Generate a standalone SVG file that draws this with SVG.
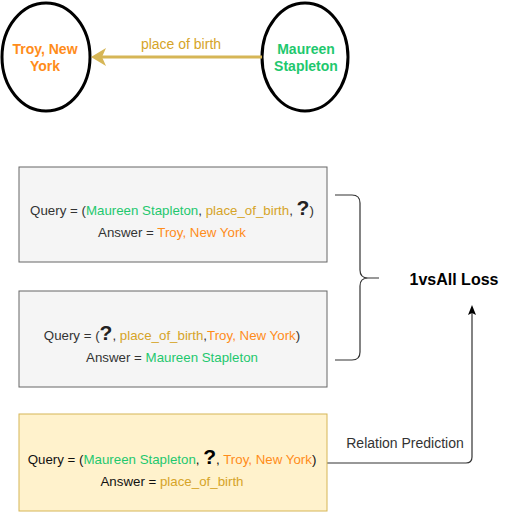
<svg xmlns="http://www.w3.org/2000/svg" width="512" height="512" viewBox="0 0 512 512">
<style>
text{font-family:"Liberation Sans",Arial,sans-serif;}
.node{fill:#ffffff;stroke:#000000;stroke-width:3;}
.nl{font-size:14px;font-weight:bold;text-anchor:middle;}
.box{stroke-width:1;}
.bt{font-size:13.3px;text-anchor:middle;}
.g{fill:#1ec86e;}
.o{fill:#ff8c1a;}
.y{fill:#d6a428;}
.q{font-size:21px;font-weight:bold;fill:#222222;}
</style>
<rect width="512" height="512" fill="#ffffff"/>
<g id="troy">
<ellipse class="node" cx="46" cy="57" rx="44" ry="54"/>
<text class="nl o" x="45" y="54">Troy, New</text>
<text class="nl o" x="45" y="71">York</text>
</g>
<g id="maureen">
<ellipse class="node" cx="305" cy="57" rx="43" ry="54"/>
<text class="nl g" x="306" y="54">Maureen</text>
<text class="nl g" x="306" y="71">Stapleton</text>
</g>
<g id="connectors">
<line x1="262" y1="57" x2="100" y2="57" stroke="#d6b656" stroke-width="3"/>
<path d="M91,57 L106,48 L102,57 L106,66 Z" fill="#d6b656"/>
<text x="181" y="49" font-size="14" text-anchor="middle" fill="#d6a428">place of birth</text>
<path d="M335,195 L352,195 Q360,195 360,203 L360,270 Q360,278 368,278 L379,278 M368,278 Q360,278 360,286 L360,352 Q360,360 352,360 L335,360" fill="none" stroke="#333333" stroke-width="1.2"/>
<path d="M327,463 L466,463 Q472,463 472,457 L472,308" fill="none" stroke="#333333" stroke-width="1.2"/>
<path d="M472,305 L476,315 L472,313 L468,315 Z" fill="#000000"/>
<text x="405" y="448" font-size="14" text-anchor="middle" fill="#333333">Relation Prediction</text>
</g>
<g id="loss">
<text x="454" y="285" font-size="16" font-weight="bold" text-anchor="middle" fill="#000000">1vsAll Loss</text>
</g>
<g id="box1">
<rect class="box" x="19" y="167" width="308" height="95" fill="#f5f5f5" stroke="#666666"/>
<text class="bt" x="172" y="215" fill="#333333">Query = (<tspan class="g">Maureen Stapleton</tspan>, <tspan class="y">place_of_birth</tspan>, <tspan class="q">?</tspan>)</text>
<text class="bt" x="172" y="237" fill="#333333">Answer = <tspan class="o">Troy, New York</tspan></text>
</g>
<g id="box2">
<rect class="box" x="19" y="291" width="308" height="96" fill="#f5f5f5" stroke="#666666"/>
<text class="bt" x="172" y="340" fill="#333333">Query = (<tspan class="q">?</tspan>, <tspan class="y">place_of_birth</tspan>,<tspan class="o">Troy, New York</tspan>)</text>
<text class="bt" x="172" y="362" fill="#333333">Answer = <tspan class="g">Maureen Stapleton</tspan></text>
</g>
<g id="box3">
<rect class="box" x="19" y="414" width="308" height="97" fill="#fff2cc" stroke="#d6b656"/>
<text class="bt" x="172" y="464" fill="#111111">Query = (<tspan class="g">Maureen Stapleton</tspan>, <tspan class="q" style="fill:#000000">?</tspan>, <tspan class="o">Troy, New York</tspan>)</text>
<text class="bt" x="172" y="486" fill="#111111">Answer = <tspan class="y">place_of_birth</tspan></text>
</g>
</svg>
